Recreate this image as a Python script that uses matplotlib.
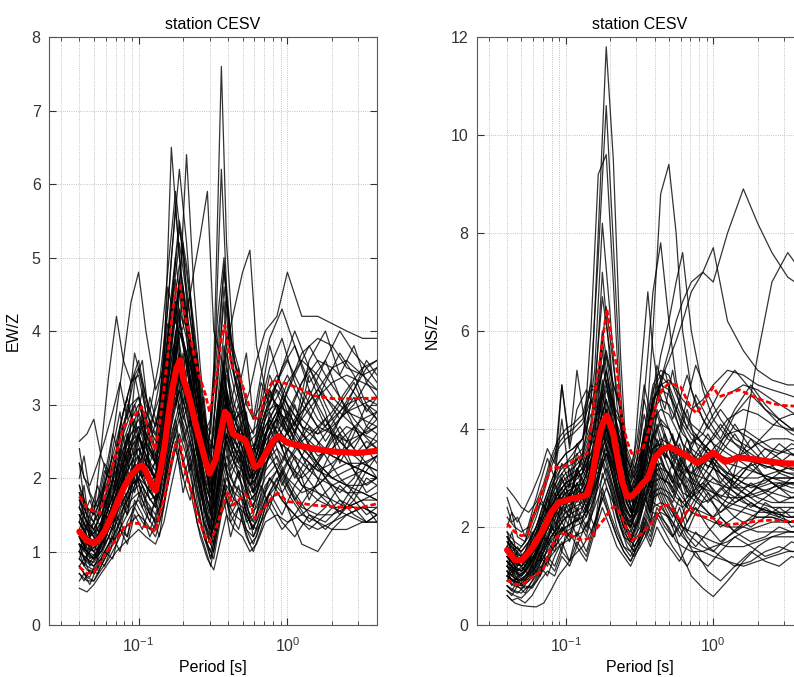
import matplotlib
matplotlib.use("Agg")
import matplotlib.pyplot as plt

plt.rcParams['font.family'] = ['Liberation Sans', 'DejaVu Sans']
plt.rcParams['mathtext.default'] = 'regular'
plt.rcParams['font.size'] = 11.5

# periods [s] at which the individual H/V ratio curves were read (two reading grids)
periods_a = [0.04, 0.045, 0.05, 0.056, 0.063, 0.071, 0.079, 0.089, 0.1, 0.112,
             0.13, 0.148, 0.166, 0.188, 0.21, 0.235, 0.26, 0.29, 0.32, 0.36,
             0.39, 0.44, 0.5, 0.56, 0.62, 0.71, 0.85, 1.0, 1.25, 1.6,
             2.0, 2.5, 3.2, 4.0]
periods_b = [0.04, 0.043, 0.047, 0.053, 0.059, 0.067, 0.075, 0.084, 0.094, 0.106,
             0.119, 0.138, 0.157, 0.177, 0.199, 0.222, 0.247, 0.275, 0.305, 0.34,
             0.375, 0.415, 0.47, 0.53, 0.59, 0.665, 0.76, 0.92, 1.12, 1.4,
             1.8, 2.25, 2.8, 3.4, 4.0]

ew_curves_a = [
    [1.4,1.2,1.1,1.3,1.6,1.9,2.2,2.5,2.7,2.4,2.2,3.0,3.6,4.2,3.5,3.0,2.6,2.2,3.5,7.6,5.2,3.6,3.0,2.6,2.3,2.6,2.9,2.8,2.5,2.2,2.0,1.9,1.8,1.7],
    [1.2,1.0,0.9,1.1,1.4,1.7,2.0,2.3,2.6,2.2,2.0,3.5,6.5,5.0,4.2,3.5,2.8,2.3,2.0,2.6,3.2,2.7,2.4,2.0,2.2,2.6,2.8,2.6,2.9,3.2,3.5,3.6,3.4,3.2],
    [1.0,0.9,0.8,0.9,1.1,1.4,1.6,1.8,2.0,1.9,1.7,2.3,3.2,4.5,6.4,4.6,3.5,2.5,1.6,2.0,2.6,2.3,2.2,1.8,1.9,2.2,2.4,2.2,1.9,1.8,1.7,1.6,1.6,1.5],
    [1.6,1.4,1.3,1.5,1.8,2.2,2.6,2.9,3.1,2.6,2.4,3.6,5.0,6.2,5.2,3.9,3.0,2.3,3.2,6.2,4.6,3.4,2.8,2.4,2.5,2.9,3.2,3.0,2.7,2.6,2.8,3.0,3.1,3.0],
    [1.3,1.2,1.1,1.2,1.4,1.7,2.0,2.2,2.4,2.1,1.9,2.6,3.4,4.0,3.7,3.3,2.7,2.2,2.6,3.3,3.0,2.8,2.9,3.2,3.6,4.0,4.2,4.8,4.2,4.2,4.1,4.0,3.9,3.9],
    [1.5,1.3,1.2,1.6,2.2,2.9,3.6,4.4,4.8,4.0,3.2,3.5,4.3,5.2,4.5,3.8,3.0,2.5,2.4,3.3,3.0,2.6,2.6,2.3,2.5,2.9,3.0,2.6,2.3,2.1,2.2,2.4,2.6,2.7],
    [1.9,1.6,1.5,2.4,3.4,4.2,3.6,3.3,3.4,2.9,2.6,3.1,3.9,4.6,4.0,3.5,2.9,2.4,2.2,2.9,2.7,2.4,2.3,2.0,2.2,2.5,2.7,2.5,2.8,3.1,3.3,3.4,3.3,3.2],
    [2.5,2.6,2.8,2.3,2.0,2.1,2.4,2.6,2.7,2.5,2.2,2.7,3.1,3.6,3.2,2.9,2.5,2.1,2.0,2.6,2.5,2.2,2.1,1.9,2.0,2.3,2.5,2.4,2.2,2.0,1.9,1.8,1.8,1.7],
    [1.3,1.1,1.0,1.2,1.5,1.8,2.1,2.3,2.4,2.2,2.0,2.6,3.3,3.9,4.2,4.8,5.3,5.9,4.0,3.6,3.2,2.8,2.5,2.3,2.4,2.7,3.0,2.7,2.3,2.1,2.0,2.1,2.2,2.3],
    [1.1,1.0,0.9,1.0,1.2,1.5,1.8,2.0,2.2,2.0,1.8,2.3,3.0,3.5,3.1,2.8,2.3,1.9,2.3,3.3,3.8,4.3,4.8,5.1,3.8,3.2,3.0,2.9,2.6,2.4,2.3,2.2,2.2,2.1],
    [0.5,0.45,0.55,0.7,0.85,1.0,1.1,1.2,1.3,1.2,1.1,1.4,1.9,2.4,2.1,1.6,1.2,0.9,0.75,1.2,1.5,1.3,1.2,1.0,1.1,1.4,1.5,1.4,1.5,1.7,1.9,2.0,2.1,2.0],
    [0.8,0.65,0.6,0.75,0.9,1.1,1.3,1.4,1.5,1.4,1.2,1.6,2.2,2.6,2.3,1.8,1.4,1.1,0.9,1.5,1.7,1.5,1.4,1.1,1.2,1.6,1.8,1.6,1.4,1.3,1.4,1.5,1.6,1.6],
    [1.2,1.0,0.9,1.0,1.2,1.5,1.7,1.9,2.0,1.8,1.6,2.2,2.8,3.2,2.7,2.3,1.8,1.4,1.2,1.9,2.2,1.9,1.7,1.4,1.3,1.7,2.0,1.6,1.1,1.0,1.3,1.5,1.6,1.5],
    [1.0,0.9,0.85,1.0,1.3,1.6,1.9,2.1,2.2,2.0,1.8,2.4,3.0,3.7,3.3,2.8,2.2,1.7,1.4,2.2,2.6,2.3,2.1,1.7,1.8,2.2,2.5,2.8,3.3,3.6,3.5,3.3,3.0,2.8],
    [1.4,1.2,1.1,1.3,1.6,1.9,2.3,2.6,2.8,2.5,2.2,2.8,3.6,4.3,3.9,3.3,2.7,2.1,1.8,2.6,3.1,2.6,2.4,2.0,2.0,2.4,2.7,3.2,3.7,3.9,3.8,3.5,3.4,3.5],
    [0.9,0.8,0.75,0.9,1.1,1.3,1.6,1.8,1.9,1.7,1.5,2.0,2.6,3.0,2.7,2.3,1.9,1.5,1.2,1.7,2.0,1.8,1.7,1.4,1.5,1.8,2.1,2.4,2.1,1.8,1.6,1.5,1.4,1.4],
    [1.7,1.5,1.4,1.6,1.9,2.3,2.7,3.0,3.1,2.8,2.5,3.2,4.1,4.9,4.3,3.6,2.9,2.3,2.0,3.0,3.5,3.0,2.7,2.3,2.5,2.9,3.3,3.6,3.2,2.8,2.6,2.5,2.6,2.8],
    [1.2,1.05,1.0,1.1,1.3,1.6,1.9,2.0,2.1,1.9,1.7,2.2,2.9,3.4,3.0,2.6,2.1,1.6,1.4,2.3,2.8,2.4,2.2,1.9,2.1,2.5,2.8,2.3,1.9,1.7,1.6,1.6,1.7,1.8],
    [1.5,1.3,1.25,1.4,1.7,2.0,2.4,2.7,2.9,2.6,2.3,2.9,3.8,4.6,4.1,3.5,2.8,2.2,1.9,2.8,3.4,2.9,2.6,2.2,2.2,2.6,2.9,2.6,2.9,3.2,3.0,2.8,2.6,2.5],
    [0.7,0.6,0.6,0.8,1.0,1.2,1.4,1.6,1.7,1.5,1.3,1.8,2.4,2.8,2.5,2.1,1.6,1.2,1.0,1.6,1.9,1.7,1.6,1.3,1.4,1.7,1.9,2.2,2.5,2.7,2.6,2.4,2.2,2.1],
    [1.3,1.1,1.05,1.2,1.5,1.8,2.1,2.4,2.6,2.3,2.1,2.6,3.3,4.0,3.6,3.1,2.5,2.0,1.7,2.5,3.0,2.7,2.5,2.1,2.2,2.6,2.9,3.3,3.6,3.4,3.1,2.9,2.8,2.7],
    [1.1,1.0,0.95,1.1,1.3,1.6,1.8,2.0,2.1,1.9,1.7,2.3,2.9,3.5,3.1,2.6,2.1,1.7,1.5,2.4,2.8,2.5,2.3,2.0,2.1,2.4,2.6,2.9,2.6,2.3,2.4,2.6,2.8,2.9],
    [2.2,1.9,1.6,1.8,2.1,2.5,2.9,3.3,3.5,3.0,2.7,3.3,4.4,5.4,4.8,4.0,3.2,2.5,2.2,3.2,4.0,3.4,3.0,2.5,2.6,3.0,3.3,3.0,2.7,2.5,2.3,2.2,2.1,2.0],
    [1.0,0.85,0.8,0.95,1.2,1.4,1.7,1.9,2.0,1.8,1.6,2.1,2.7,3.2,2.9,2.4,1.9,1.5,1.3,2.0,2.3,2.1,1.9,1.6,1.7,2.0,2.2,1.9,1.6,1.5,1.5,1.6,1.7,1.7],
    [1.6,1.4,1.3,1.5,1.8,2.1,2.5,2.8,3.0,2.7,2.4,3.0,3.9,4.7,4.2,3.6,2.9,2.3,2.0,3.1,3.7,3.2,2.8,2.4,2.4,2.8,3.1,3.4,3.0,2.7,2.9,3.2,3.5,3.6],
    [1.3,1.15,1.1,1.25,1.5,1.8,2.0,2.2,2.3,2.1,1.9,2.4,3.1,3.6,3.3,2.8,2.3,1.8,1.6,2.2,2.6,2.4,2.2,1.9,2.0,2.3,2.6,2.2,2.0,2.2,2.5,2.7,2.6,2.4],
    [0.9,0.75,0.7,0.85,1.05,1.3,1.5,1.7,1.8,1.6,1.4,1.9,2.5,2.9,2.6,2.2,1.8,1.4,1.1,1.7,2.1,1.9,1.8,1.5,1.6,1.9,2.1,1.8,1.5,1.4,1.3,1.3,1.4,1.4],
    [1.8,1.6,1.5,1.7,2.0,2.4,2.9,3.3,3.6,3.1,2.7,3.4,4.5,5.5,4.9,4.1,3.3,2.6,2.4,3.6,4.4,3.6,3.1,2.6,2.7,3.1,3.4,3.1,2.8,2.6,2.7,2.9,3.0,3.1],
    [1.1,0.95,0.9,1.05,1.3,1.6,1.8,2.1,2.3,2.0,1.8,2.3,3.0,3.6,3.2,2.7,2.2,1.7,1.4,2.1,2.5,2.2,2.0,1.7,1.8,2.1,2.3,2.0,1.8,1.9,2.1,2.2,2.1,2.0],
    [1.4,1.2,1.15,1.3,1.6,1.9,2.2,2.5,2.6,2.3,2.0,2.6,3.4,4.1,3.7,3.1,2.5,2.0,1.8,2.6,3.1,2.8,2.6,2.2,2.3,2.7,3.0,2.7,2.4,2.2,2.0,1.9,1.9,2.0],
]

ew_curves_b = [
    [1.6,1.9,1.3,1.1,1.5,2.2,1.8,2.6,2.3,2.9,2.1,1.9,3.4,4.4,3.2,3.8,2.6,2.9,1.6,2.8,3.6,2.5,2.9,2.2,2.0,2.7,2.3,3.1,2.6,3.4,2.9,2.2,2.6,3.0,2.8],
    [1.0,0.8,1.1,0.9,1.3,1.1,1.8,1.5,2.2,1.7,1.4,2.0,2.7,3.3,2.6,2.1,2.5,1.5,1.1,1.9,2.4,1.7,2.1,1.5,1.3,1.8,2.4,1.9,2.3,1.7,2.2,2.6,2.1,1.8,1.9],
    [2.2,1.7,1.5,1.9,1.6,2.4,2.9,2.2,3.3,3.6,2.7,3.1,4.1,3.5,4.6,3.3,2.7,3.1,2.2,3.4,4.4,3.0,3.5,2.6,2.3,3.1,3.8,3.2,2.7,3.6,4.0,3.4,3.8,3.3,3.5],
    [0.6,0.7,0.55,0.8,1.0,0.9,1.3,1.1,1.5,1.3,1.6,1.2,2.0,2.5,1.8,2.2,1.4,1.1,0.8,1.3,1.7,1.2,1.6,1.2,1.0,1.3,1.7,1.4,1.2,1.5,1.3,1.5,1.8,1.6,1.4],
    [1.3,1.1,1.2,1.0,1.7,1.4,2.1,2.6,1.9,2.3,2.8,2.0,2.6,4.0,3.4,2.9,3.6,2.3,1.8,2.3,3.1,2.6,2.2,2.6,1.9,2.2,2.9,2.4,3.0,2.4,2.0,2.3,2.7,2.4,2.2],
    [1.8,1.5,1.7,1.4,2.0,2.6,2.3,3.0,2.7,2.4,3.1,2.6,3.7,5.0,4.1,4.5,3.2,2.6,2.4,3.3,4.6,3.6,3.2,3.7,2.8,3.0,3.5,3.9,3.3,2.9,2.5,2.8,3.2,3.6,3.4],
    [0.9,1.1,0.8,0.95,1.2,1.5,1.3,1.7,2.0,1.6,1.9,1.5,2.3,2.8,2.2,2.5,1.9,1.4,1.2,1.6,2.0,1.6,1.9,1.4,1.5,1.9,1.6,2.1,1.7,1.4,1.6,1.9,1.7,1.5,1.6],
    [1.4,1.7,1.2,1.4,1.3,2.0,1.7,2.3,2.5,2.0,2.4,2.2,3.0,3.8,3.0,3.4,2.5,1.9,1.5,2.5,3.0,2.3,2.7,2.0,1.8,2.4,2.7,2.2,2.6,3.1,3.6,3.1,2.7,2.4,2.5],
    [1.1,0.9,1.0,1.3,1.1,1.6,2.0,1.7,2.4,2.7,2.2,1.7,2.6,3.4,2.8,3.1,2.3,1.7,1.3,2.0,2.6,2.0,2.3,1.8,1.6,2.0,2.3,2.0,1.7,2.0,2.4,2.8,3.1,2.7,2.6],
    [2.0,2.3,1.8,1.6,2.1,1.9,2.7,3.1,2.6,3.2,2.5,2.9,4.6,4.1,5.2,3.6,3.0,2.6,2.8,4.2,5.0,3.6,3.1,2.7,2.3,2.9,3.2,2.7,3.1,3.5,3.0,2.6,2.4,2.7,2.9],
    [0.8,0.9,0.7,0.75,1.0,1.2,1.0,1.4,1.6,1.9,1.5,1.4,1.9,2.4,2.0,1.7,2.1,1.3,0.9,1.4,1.8,1.5,1.3,1.7,1.2,1.4,1.8,1.5,1.9,2.2,1.8,1.5,1.7,2.0,1.9],
    [1.5,1.3,1.4,1.2,1.5,1.8,2.3,2.0,2.8,2.4,2.0,2.4,3.3,4.2,3.5,3.9,2.8,2.2,1.8,2.9,3.4,2.7,3.0,2.3,2.1,2.6,3.0,3.5,3.8,3.2,2.7,3.0,3.3,2.9,3.1],
    [1.2,1.4,1.0,1.1,1.4,1.3,1.9,1.6,2.1,2.3,1.8,2.1,2.9,3.0,3.7,2.8,2.3,2.7,1.5,2.2,2.8,2.2,2.5,1.9,1.7,2.2,2.5,2.1,2.4,2.7,2.3,2.0,1.8,2.1,2.3],
    [1.7,1.5,1.3,1.5,1.9,2.3,2.0,2.5,3.0,2.7,2.2,2.6,3.8,4.7,3.8,3.2,3.7,2.5,2.0,2.8,3.8,3.1,2.6,2.9,2.2,2.5,3.2,2.8,2.4,2.8,3.3,3.7,3.4,3.0,2.9],
    [0.7,0.6,0.75,0.7,0.9,1.1,1.3,1.2,1.6,1.4,1.3,1.6,2.1,2.7,2.2,1.9,1.6,1.2,1.0,1.5,1.9,1.5,1.7,1.3,1.2,1.5,1.8,2.1,1.8,1.5,1.4,1.6,1.9,2.2,2.0],
    [1.3,1.2,1.5,1.3,1.2,1.7,2.2,1.9,2.2,2.0,2.5,2.0,2.8,3.6,2.9,3.3,2.5,1.8,1.4,2.2,2.9,2.5,2.0,2.4,1.8,2.0,2.6,3.0,2.5,2.1,2.4,2.7,2.4,2.2,2.3],
    [1.9,1.6,1.4,1.7,2.2,2.0,2.6,2.9,3.4,2.9,2.6,3.3,4.3,5.7,4.4,3.8,3.0,2.4,2.1,3.6,4.9,3.8,3.4,2.8,2.6,3.3,3.0,3.5,4.0,3.5,3.1,2.8,3.0,3.3,3.1],
    [1.0,1.2,0.9,1.0,1.2,1.4,1.7,1.5,1.9,2.1,1.7,1.8,2.4,3.1,2.5,2.8,2.0,1.6,1.2,1.8,2.3,1.8,2.1,1.6,1.4,1.7,2.0,1.8,2.1,2.5,2.8,2.4,2.1,1.9,2.0],
    [1.4,1.3,1.1,1.2,1.6,1.9,1.7,2.2,2.0,2.5,2.1,2.3,3.1,3.9,3.3,2.7,3.0,2.0,1.7,2.4,3.2,2.6,2.4,2.1,1.8,2.3,2.8,2.4,2.0,2.3,2.0,1.8,2.0,2.4,2.6],
    [2.4,2.0,1.9,2.2,2.5,2.9,3.3,2.8,3.7,3.3,2.9,3.6,4.8,5.9,5.0,4.2,3.4,2.8,2.6,3.9,4.8,3.9,3.5,3.0,2.8,3.4,3.9,4.3,3.8,3.3,3.6,4.0,3.7,3.5,3.6],
    [0.8,0.7,0.65,0.9,0.8,1.1,1.4,1.2,1.7,1.5,1.2,1.5,2.2,2.6,2.0,2.3,1.7,1.2,0.9,1.4,1.9,1.4,1.6,1.3,1.1,1.4,1.6,1.3,1.5,1.8,2.0,1.7,1.5,1.4,1.5],
    [1.2,1.0,1.3,1.1,1.5,1.4,1.8,2.1,1.8,2.2,1.9,2.2,3.2,3.6,3.1,2.6,2.2,1.6,1.3,2.3,2.7,2.1,2.4,1.8,1.6,2.1,2.6,3.0,3.4,3.8,3.4,3.1,2.8,2.6,2.7],
    [1.6,1.4,1.2,1.6,1.9,1.7,2.4,2.2,2.6,2.3,2.7,2.5,3.5,4.4,3.9,3.3,2.8,2.3,1.9,2.7,3.5,2.8,3.2,2.5,2.2,2.8,3.4,3.0,2.6,2.3,2.6,2.9,3.2,3.5,3.3],
    [1.1,0.9,0.85,1.0,1.3,1.6,1.4,1.8,2.1,1.8,1.5,1.8,2.5,3.2,2.7,2.2,1.8,1.4,1.1,1.7,2.2,1.9,1.6,1.5,1.3,1.6,2.0,1.7,1.5,1.3,1.5,1.7,1.6,1.4,1.5],
    [1.3,1.5,1.2,1.3,1.5,2.0,1.8,2.4,2.2,2.8,2.4,2.1,3.0,3.7,3.2,3.6,2.6,2.0,1.7,2.6,3.3,2.7,2.4,2.7,2.0,2.3,2.8,2.5,2.8,3.2,2.8,2.5,2.3,2.5,2.4],
]

ns_curves_a = [
    [1.3,1.1,1.0,1.2,1.5,1.9,2.3,2.6,2.8,3.0,3.4,4.6,8.0,11.8,9.5,5.5,3.2,2.4,2.6,3.2,3.8,4.2,4.0,3.6,3.3,3.0,2.8,2.6,2.4,2.3,2.2,2.2,2.1,2.1],
    [1.6,1.4,1.3,1.5,1.8,2.3,2.8,3.2,3.3,3.5,3.8,5.0,7.5,10.6,7.8,4.8,3.0,2.5,2.8,3.5,3.9,3.6,3.4,3.2,3.1,3.3,3.6,3.4,3.1,2.9,2.8,2.7,2.6,2.6],
    [1.2,1.0,0.9,1.1,1.4,1.8,2.1,2.4,2.6,2.8,3.5,6.0,9.2,9.6,7.0,4.2,2.8,2.0,2.2,2.8,3.2,3.0,2.9,2.6,2.5,2.7,2.9,2.7,2.5,2.4,2.3,2.3,2.2,2.2],
    [1.5,1.3,1.2,1.4,1.7,2.1,2.5,2.8,3.0,3.1,3.3,3.8,4.5,5.2,4.4,3.5,2.9,2.7,3.2,4.5,6.0,8.8,9.4,8.0,6.0,4.8,4.2,3.9,3.6,3.4,3.3,3.2,3.1,3.1],
    [1.4,1.2,1.1,1.3,1.6,2.0,2.3,2.6,2.8,2.9,3.1,3.5,4.0,4.6,4.0,3.2,2.8,2.6,3.0,3.6,4.2,5.0,5.6,6.2,6.6,7.0,7.2,7.0,8.0,8.9,8.2,7.6,7.1,6.9],
    [1.8,1.6,1.5,1.7,2.0,2.5,2.9,3.3,3.5,3.6,3.8,4.5,5.0,6.5,5.3,4.3,3.4,3.0,3.8,5.5,6.8,7.8,6.2,5.0,4.4,4.0,3.7,3.5,3.3,3.2,3.1,3.0,3.0,3.0],
    [1.3,1.1,1.0,1.2,1.5,1.8,2.2,2.5,2.7,2.8,3.0,3.4,3.5,4.0,3.7,3.6,2.9,2.5,2.8,3.6,4.5,5.5,6.2,7.0,7.6,6.0,4.8,4.2,3.8,3.6,3.4,3.3,3.2,3.1],
    [1.5,1.3,1.2,1.4,1.7,2.1,2.4,2.7,2.9,3.0,3.2,3.7,4.4,5.2,4.5,3.6,3.0,2.7,3.0,3.8,4.5,5.0,5.4,5.8,6.2,6.8,7.2,7.7,6.2,5.6,5.2,5.0,4.9,4.9],
    [1.1,0.95,0.9,1.05,1.3,1.6,1.9,2.2,2.4,2.5,2.7,3.1,3.6,4.3,3.7,3.0,2.5,2.2,2.5,3.0,3.4,3.6,3.4,3.1,2.9,2.6,2.4,2.2,2.6,3.8,5.5,7.0,7.6,7.2],
    [1.4,1.2,1.1,1.3,1.6,2.0,2.4,2.7,2.9,3.0,3.2,3.7,3.8,4.4,4.0,3.7,3.0,3.4,5.0,6.8,5.6,4.5,4.0,3.6,3.3,3.1,3.0,2.9,2.8,2.8,2.9,3.0,3.0,3.0],
    [0.9,0.8,0.75,0.9,1.1,1.4,1.7,1.9,2.0,2.1,2.2,2.6,3.0,3.5,3.0,2.4,1.9,1.6,1.8,2.2,2.5,2.4,2.2,1.8,1.4,1.0,0.75,0.58,0.9,1.3,1.6,1.8,1.9,1.9],
    [0.6,0.45,0.4,0.38,0.37,0.45,0.7,1.0,1.2,1.4,1.6,1.9,2.3,2.8,2.5,2.0,1.7,1.5,1.7,2.0,2.3,2.2,2.0,1.7,1.6,1.5,1.5,1.6,1.7,1.9,2.0,2.1,2.1,2.1],
    [2.8,2.6,2.4,2.3,2.5,2.9,3.4,3.8,4.0,4.1,4.3,4.9,4.8,5.5,4.9,4.4,3.5,3.1,3.4,4.1,4.6,4.9,5.0,4.8,4.6,4.4,4.6,4.9,5.2,5.1,4.9,4.8,4.7,4.6],
    [1.0,0.85,0.8,0.95,1.2,1.5,1.8,2.0,2.2,2.3,2.4,2.8,3.3,3.9,3.4,2.7,2.1,1.8,2.0,2.5,2.9,3.0,2.9,2.7,2.5,2.3,2.2,2.1,2.0,2.0,1.9,1.9,1.9,1.9],
    [1.7,1.5,1.4,1.6,1.9,2.4,2.8,3.1,3.3,3.4,3.6,4.1,4.2,4.8,4.3,3.9,3.2,2.8,3.2,4.0,4.6,4.8,4.7,4.4,4.1,3.8,3.6,3.8,4.2,4.4,4.3,4.1,4.0,3.9],
    [1.2,1.05,1.0,1.15,1.4,1.7,2.0,2.3,2.5,2.6,2.7,3.0,3.5,4.0,3.5,2.8,2.3,2.0,2.3,2.8,3.2,3.3,3.1,2.9,2.7,2.6,2.8,3.0,2.8,2.6,2.4,2.3,2.3,2.3],
    [1.9,1.7,1.6,1.8,2.2,2.7,3.2,3.6,3.8,3.9,4.1,4.6,4.4,5.0,4.5,4.2,3.4,3.0,3.3,4.2,4.8,5.1,4.9,4.5,4.2,3.9,3.7,3.5,3.4,3.5,3.7,3.8,3.8,3.7],
    [0.8,0.7,0.65,0.8,1.0,1.3,1.5,1.7,1.9,2.0,2.1,2.4,2.8,3.2,2.8,2.2,1.8,1.5,1.7,2.1,2.4,2.5,2.4,2.2,2.0,1.9,1.8,1.7,1.6,1.6,1.7,1.8,1.8,1.8],
    [1.3,1.15,1.1,1.25,1.5,1.9,2.2,2.5,2.7,2.8,2.9,3.3,3.4,3.8,3.5,3.2,2.6,2.3,2.6,3.2,3.6,3.8,3.7,3.4,3.2,3.1,3.3,3.6,3.9,4.0,3.8,3.6,3.5,3.4],
    [1.5,1.35,1.3,1.45,1.8,2.2,2.6,2.9,3.1,3.2,3.4,3.9,3.8,4.4,3.9,3.7,3.0,2.6,2.9,3.7,4.2,4.4,4.3,4.0,3.7,3.5,3.3,3.2,3.0,2.8,2.6,2.5,2.5,2.5],
    [1.1,0.95,0.9,1.0,1.3,1.6,1.9,2.1,2.3,2.4,2.5,2.9,3.4,4.1,3.5,2.8,2.2,1.9,2.2,2.7,3.1,3.2,3.1,2.8,2.6,2.4,2.3,2.2,2.4,2.6,2.8,2.9,2.9,2.8],
    [2.2,2.0,1.9,2.0,2.4,2.8,3.3,3.7,3.9,4.0,4.2,4.8,4.8,5.6,4.9,4.5,3.6,3.2,3.5,4.3,4.9,5.2,5.1,4.7,4.4,4.1,3.9,3.7,3.5,3.3,3.1,3.0,2.9,2.9],
    [1.0,0.9,0.85,1.0,1.2,1.5,1.8,2.0,2.2,2.2,2.3,2.6,3.1,3.7,3.2,2.5,2.0,1.7,1.9,2.4,2.7,2.8,2.7,2.5,2.4,2.6,2.9,3.2,3.0,2.7,2.5,2.4,2.4,2.4],
    [1.4,1.25,1.2,1.35,1.6,2.0,2.4,2.7,2.9,3.0,3.1,3.5,3.6,4.2,3.8,3.5,2.8,2.4,2.7,3.4,3.9,4.1,4.0,3.7,3.5,3.4,3.2,3.0,2.7,2.5,2.4,2.3,2.2,2.2],
    [0.7,0.6,0.55,0.7,0.9,1.2,1.4,1.6,1.7,1.8,1.9,2.2,2.6,3.0,2.6,2.0,1.6,1.4,1.6,1.9,2.2,2.3,2.2,2.0,1.8,1.6,1.5,1.4,1.3,1.2,1.3,1.4,1.5,1.5],
    [1.6,1.45,1.4,1.55,1.9,2.3,2.7,3.0,3.2,3.3,3.5,4.0,4.0,4.6,4.1,3.8,3.1,2.7,3.1,3.9,4.4,4.6,4.5,4.2,3.9,3.7,3.9,4.3,4.7,4.9,4.8,4.6,4.4,4.2],
    [1.2,1.1,1.05,1.2,1.45,1.8,2.1,2.4,2.6,2.6,2.8,3.2,3.1,3.5,3.2,3.1,2.5,2.2,2.4,3.0,3.4,3.5,3.4,3.1,2.9,2.7,2.5,2.6,2.9,3.2,3.3,3.2,3.1,3.0],
    [1.0,0.9,0.8,0.9,1.1,1.4,1.6,1.8,2.0,2.1,2.2,2.5,3.0,3.5,3.0,2.4,1.9,1.6,1.8,2.3,2.6,2.7,2.6,2.3,2.0,1.8,1.6,1.5,1.8,2.1,2.2,2.2,2.1,2.1],
    [1.8,1.6,1.5,1.7,2.0,2.5,2.9,3.3,3.5,3.6,3.8,4.3,4.3,4.9,4.4,4.1,3.3,2.9,3.2,4.0,4.6,4.9,4.8,4.4,4.0,3.6,3.4,3.3,3.1,3.0,3.0,3.1,3.2,3.2],
    [1.3,1.15,1.1,1.2,1.5,1.8,2.1,2.4,2.6,2.7,2.9,3.3,3.2,3.6,3.3,3.1,2.6,2.3,2.6,3.2,3.6,3.7,3.6,3.3,3.1,2.9,2.8,2.7,2.6,2.6,2.7,2.8,2.9,2.9],
]

ns_curves_b = [
    [1.6,1.9,1.4,1.2,1.6,2.1,2.6,2.2,3.0,2.6,3.2,2.7,3.9,5.3,4.6,3.4,2.7,2.3,2.9,3.6,3.1,4.0,3.4,3.9,3.2,3.6,3.0,3.5,2.9,3.3,3.8,3.4,3.1,3.3,3.2],
    [1.0,0.8,1.0,0.9,1.2,1.0,1.6,1.9,1.5,2.2,1.8,2.4,2.0,3.1,2.6,2.0,1.6,1.5,1.9,2.5,2.1,2.7,2.3,2.0,2.4,1.9,2.3,2.7,2.2,1.9,2.1,2.5,2.3,2.0,2.1],
    [2.4,2.1,2.2,1.8,2.3,2.9,3.4,3.0,4.9,3.6,4.4,4.8,4.4,6.0,5.0,4.1,3.4,3.0,3.6,4.6,4.0,4.9,4.4,5.2,4.5,4.0,4.7,4.2,3.8,4.4,4.9,4.5,4.2,4.0,4.1],
    [0.7,0.6,0.8,0.65,0.9,1.2,1.0,1.4,1.7,1.3,1.9,1.5,2.1,2.6,2.2,1.8,1.5,1.3,1.6,2.0,1.7,2.2,1.9,1.6,1.4,1.2,1.5,1.1,0.9,1.2,1.5,1.3,1.2,1.4,1.3],
    [1.3,1.1,1.2,1.4,1.3,1.8,2.2,2.7,2.3,2.9,2.5,3.1,3.6,4.7,3.8,2.9,2.3,2.1,2.6,3.3,2.8,3.5,3.9,3.3,2.8,3.2,2.6,3.0,3.5,3.9,3.4,3.0,2.8,3.0,3.1],
    [1.8,1.5,1.6,1.3,1.8,2.2,2.0,2.6,3.1,2.8,3.4,3.0,4.6,7.2,5.4,3.8,3.0,2.7,3.2,3.9,3.5,4.3,3.8,3.4,3.9,4.4,3.7,3.2,3.6,4.1,3.6,3.3,3.5,3.7,3.6],
    [0.9,1.1,0.8,0.9,1.0,1.3,1.7,1.5,2.0,1.8,2.3,1.9,2.6,3.3,2.8,2.2,1.8,1.7,2.0,2.6,2.3,2.9,2.5,2.2,2.6,2.1,2.5,2.9,2.5,2.2,2.0,2.2,2.4,2.2,2.3],
    [1.4,1.2,1.1,1.3,1.6,1.4,2.0,2.4,2.1,2.7,2.3,2.9,3.4,4.2,3.5,2.8,2.3,2.0,2.4,3.0,2.6,3.3,2.9,3.3,3.7,3.2,2.8,2.5,2.8,2.5,2.7,3.0,2.8,2.6,2.7],
    [1.1,0.9,0.95,1.1,1.0,1.5,1.8,1.6,2.3,2.0,2.6,2.2,3.0,3.7,3.1,2.5,2.0,1.9,2.2,2.8,2.4,3.1,2.7,2.4,2.1,2.5,2.9,3.4,3.0,2.7,2.4,2.6,2.8,2.7,2.7],
    [2.0,2.3,1.8,1.7,2.2,2.6,2.3,3.0,4.2,3.0,3.7,3.2,4.9,6.7,5.6,4.0,3.2,2.9,3.4,4.3,3.7,4.6,5.2,4.5,4.0,4.6,5.3,4.7,4.2,3.8,3.6,3.9,4.2,4.0,3.9],
    [0.8,0.7,0.9,0.75,0.8,1.1,1.4,1.2,1.6,1.9,1.6,2.1,1.8,2.8,2.3,1.9,1.6,1.4,1.7,2.2,1.9,2.4,2.1,1.8,2.0,1.7,1.4,1.2,1.5,1.8,1.6,1.4,1.5,1.7,1.6],
    [1.5,1.3,1.4,1.2,1.5,1.9,1.7,2.3,2.7,2.4,2.9,2.5,3.3,4.5,3.7,3.1,2.5,2.2,2.7,3.4,3.0,3.7,3.2,2.9,3.3,3.8,3.3,2.9,2.6,2.9,3.3,3.6,3.4,3.2,3.2],
    [1.2,1.4,1.0,1.1,1.3,1.6,2.0,1.8,2.4,2.2,2.7,2.3,2.9,3.9,3.3,2.6,2.1,2.0,2.3,2.9,2.5,3.2,2.8,2.5,2.9,2.4,2.8,3.2,3.7,4.3,4.7,4.4,4.1,3.9,3.8],
    [1.7,1.5,1.3,1.5,1.9,1.7,2.4,2.9,2.5,3.2,2.7,3.4,3.9,5.6,4.4,3.5,2.8,2.5,3.0,3.8,3.3,4.1,3.6,3.2,3.6,3.1,3.5,3.9,3.4,3.0,2.8,2.9,3.1,3.0,3.0],
    [0.6,0.5,0.55,0.45,0.6,0.9,1.1,1.0,1.4,1.2,1.6,1.3,1.9,2.4,2.0,1.6,1.4,1.2,1.5,1.9,1.6,2.0,1.7,1.5,1.3,1.6,1.9,1.6,1.4,1.2,1.3,1.5,1.6,1.5,1.5],
    [1.3,1.2,1.5,1.3,1.2,1.7,2.1,1.9,2.5,2.2,2.8,2.4,3.0,4.0,3.4,2.7,2.2,2.1,2.4,3.1,2.7,3.4,3.0,2.7,3.1,2.6,3.0,2.6,2.3,2.6,2.9,2.7,2.5,2.6,2.6],
    [1.9,1.6,1.5,1.7,2.1,2.5,2.3,2.8,3.3,2.9,3.5,3.1,4.2,5.8,4.7,3.7,3.0,2.6,3.1,4.0,3.5,4.4,3.9,3.5,3.9,3.4,3.8,4.3,4.8,5.2,4.8,4.4,4.2,4.3,4.3],
    [1.0,1.2,0.9,1.0,1.1,1.4,1.2,1.7,2.0,1.7,2.2,1.8,2.5,3.4,2.9,2.3,1.9,1.7,2.1,2.7,2.3,2.8,2.4,2.1,1.8,2.1,2.4,2.0,1.7,1.9,2.2,2.4,2.2,2.1,2.2],
    [1.4,1.3,1.1,1.2,1.5,1.8,2.2,1.9,2.6,2.3,2.9,2.4,3.2,4.4,3.6,2.9,2.4,2.2,2.6,3.2,2.8,3.6,3.1,2.8,3.2,2.7,3.1,3.5,3.1,2.8,3.1,3.4,3.7,3.5,3.4],
    [2.6,2.3,2.1,2.4,2.7,3.1,3.6,3.3,4.9,3.7,5.2,3.9,5.2,8.2,6.4,4.5,3.6,3.2,3.8,4.9,4.3,5.3,4.7,4.2,4.6,5.1,4.5,4.0,4.4,4.0,3.8,3.6,3.5,3.6,3.6],
    [0.8,0.7,0.65,0.8,0.75,1.0,1.3,1.1,1.5,1.3,1.7,1.4,2.0,2.7,2.2,1.8,1.5,1.3,1.6,2.1,1.8,2.3,2.0,1.8,2.1,1.8,1.6,1.9,2.2,1.9,1.7,1.8,2.0,1.9,1.9],
    [1.2,1.0,1.3,1.1,1.4,1.3,1.8,2.1,1.9,2.4,2.1,2.6,3.0,4.1,3.3,2.7,2.2,2.0,2.4,3.0,2.6,3.3,2.9,2.6,3.0,3.5,3.9,3.5,3.1,2.8,2.6,2.7,2.9,2.8,2.8],
    [1.6,1.4,1.2,1.5,1.8,2.2,2.0,2.5,3.0,2.6,3.2,2.8,3.7,5.0,4.1,3.2,2.6,2.3,2.8,3.5,3.1,3.8,3.4,3.0,3.4,2.9,3.3,3.7,4.1,3.7,3.4,3.2,3.3,3.5,3.4],
    [1.1,0.9,0.85,1.0,1.2,1.5,1.3,1.8,2.1,1.8,2.4,2.0,2.7,3.6,3.0,2.4,2.0,1.8,2.1,2.7,2.3,3.0,2.6,2.3,2.0,2.3,2.6,2.3,2.0,2.2,2.5,2.3,2.2,2.4,2.3],
    [1.5,1.7,1.3,1.4,1.6,2.0,2.4,2.1,2.8,2.5,3.1,2.6,3.5,4.8,3.9,3.1,2.5,2.2,2.6,3.3,2.9,3.6,3.2,2.9,3.3,2.8,3.2,3.6,3.2,2.9,3.3,3.0,2.8,2.9,2.9],
]

# mean and mean +/- one standard deviation (red curves)
ew_T = [0.04, 0.045, 0.05, 0.055, 0.06, 0.07, 0.08, 0.09, 0.1, 0.105, 0.11, 0.12, 0.13,
        0.14, 0.15, 0.16, 0.17, 0.18, 0.19, 0.2, 0.22, 0.25, 0.28, 0.3, 0.33, 0.36, 0.38,
        0.4, 0.43, 0.47, 0.52, 0.56, 0.6, 0.65, 0.7, 0.8, 0.87, 1.0, 1.2, 1.5, 2.0, 3.0, 4.0]
ew_mean = [1.27, 1.15, 1.11, 1.18, 1.30, 1.60, 1.88, 2.05, 2.15, 2.17, 2.12, 1.95, 1.83,
           2.10, 2.45, 2.90, 3.25, 3.50, 3.60, 3.35, 3.08, 2.62, 2.25, 2.06, 2.25, 2.65, 2.90,
           2.85, 2.60, 2.56, 2.52, 2.35, 2.15, 2.18, 2.30, 2.50, 2.57, 2.48, 2.44, 2.40, 2.36, 2.34, 2.37]
ew_upper = [1.75, 1.60, 1.55, 1.52, 1.80, 2.30, 2.72, 2.78, 2.92, 2.97, 2.85, 2.55, 2.38,
            2.80, 3.30, 3.80, 4.30, 4.60, 4.62, 4.30, 3.95, 3.45, 3.15, 2.90, 3.30, 3.90, 4.08,
            3.80, 3.47, 3.42, 3.15, 2.95, 2.82, 2.80, 3.10, 3.33, 3.31, 3.28, 3.22, 3.12, 3.08, 3.08, 3.09]
ew_lower = [0.79, 0.70, 0.72, 0.84, 0.98, 1.15, 1.33, 1.39, 1.38, 1.36, 1.34, 1.32, 1.27,
            1.55, 1.75, 2.05, 2.30, 2.50, 2.52, 2.18, 1.90, 1.47, 1.20, 1.13, 1.30, 1.55, 1.72,
            1.80, 1.63, 1.70, 1.78, 1.70, 1.45, 1.52, 1.60, 1.75, 1.79, 1.68, 1.66, 1.63, 1.61, 1.59, 1.65]

ns_T = [0.04, 0.045, 0.05, 0.055, 0.06, 0.07, 0.08, 0.09, 0.1, 0.11, 0.12, 0.13, 0.14, 0.15,
        0.16, 0.17, 0.18, 0.19, 0.2, 0.21, 0.22, 0.24, 0.26, 0.28, 0.3, 0.33, 0.36, 0.4, 0.45,
        0.5, 0.55, 0.6, 0.65, 0.7, 0.77, 0.85, 0.9, 1.0, 1.1, 1.2, 1.5, 2.0, 2.5, 3.0, 4.0]
ns_mean = [1.53, 1.33, 1.32, 1.45, 1.60, 1.94, 2.31, 2.50, 2.54, 2.58, 2.60, 2.63, 2.66, 3.00,
           3.45, 3.91, 4.15, 4.27, 4.10, 3.91, 3.55, 2.95, 2.62, 2.63, 2.72, 2.88, 2.99, 3.40, 3.58,
           3.64, 3.58, 3.52, 3.47, 3.40, 3.31, 3.37, 3.42, 3.52, 3.42, 3.33, 3.42, 3.37, 3.33, 3.30, 3.29]
ns_upper = [2.07, 1.90, 1.82, 1.85, 2.21, 2.76, 3.23, 3.21, 3.25, 3.33, 3.40, 3.45, 3.50, 4.10,
            4.90, 5.34, 5.95, 6.45, 6.00, 5.60, 5.34, 4.20, 3.75, 3.50, 3.53, 3.57, 3.90, 4.40, 4.80,
            4.93, 4.90, 4.86, 4.65, 4.45, 4.32, 4.50, 4.65, 4.86, 4.66, 4.70, 4.80, 4.62, 4.52, 4.48, 4.46]
ns_lower = [0.92, 0.84, 0.82, 0.90, 0.99, 1.12, 1.60, 1.86, 1.86, 1.82, 1.76, 1.73, 1.76, 1.80,
            1.95, 2.06, 2.14, 2.25, 2.35, 2.40, 2.41, 2.20, 1.94, 1.73, 1.78, 1.87, 2.00, 2.14, 2.45,
            2.44, 2.31, 2.11, 2.28, 2.41, 2.25, 2.21, 2.20, 2.18, 2.10, 2.04, 2.07, 2.12, 2.14, 2.12, 2.11]

fig = plt.figure(figsize=(7.94, 6.77), dpi=100)
ax1 = fig.add_axes([0.0617, 0.0768, 0.4131, 0.8685])
ax2 = fig.add_axes([0.6008, 0.0768, 0.4093, 0.8685])

panels = [
    (ax1, ew_curves_a, ew_curves_b, ew_T, ew_mean, ew_upper, ew_lower, 'EW/Z', 8, [0, 1, 2, 3, 4, 5, 6, 7, 8]),
    (ax2, ns_curves_a, ns_curves_b, ns_T, ns_mean, ns_upper, ns_lower, 'NS/Z', 12, [0, 2, 4, 6, 8, 10, 12]),
]

for ax, curves_a, curves_b, T, mean, upper, lower, ylab, ymax, yt in panels:
    for c in curves_a:
        ax.plot(periods_a, c, color='k', lw=0.9, alpha=0.8)
    for c in curves_b:
        ax.plot(periods_b, c, color='k', lw=0.9, alpha=0.8)
    ax.plot(T, upper, color='red', lw=2, ls=(0, (2, 1)))
    ax.plot(T, lower, color='red', lw=2, ls=(0, (2, 1)))
    ax.plot(T, mean, color='red', lw=4.5, solid_capstyle='round')
    ax.set_xscale('log')
    ax.set_xlim(0.025, 4)
    ax.set_ylim(0, ymax)
    ax.set_yticks(yt)
    ax.set_xticks([0.1, 1])
    ax.set_xticklabels(['$10^{-1}$', '$10^{0}$'])
    ax.grid(True, which='major', color='#b0b0b0', ls=':', lw=0.6)
    ax.grid(True, which='minor', axis='x', color='#b0b0b0', ls=':', lw=0.6)
    ax.tick_params(which='both', direction='in', top=True, right=True, colors='0.2')
    ax.tick_params(which='major', length=5, pad=6)
    ax.tick_params(which='minor', length=3)
    ax.tick_params(axis='x', which='major', pad=8)
    for s in ax.spines.values():
        s.set_color('0.35')
    ax.set_title('station CESV', fontsize=11.5, pad=6)
    ax.set_xlabel('Period [s]', labelpad=4)
    ax.set_ylabel(ylab, labelpad=8)

fig.savefig('out.png', dpi=100, facecolor='white')
